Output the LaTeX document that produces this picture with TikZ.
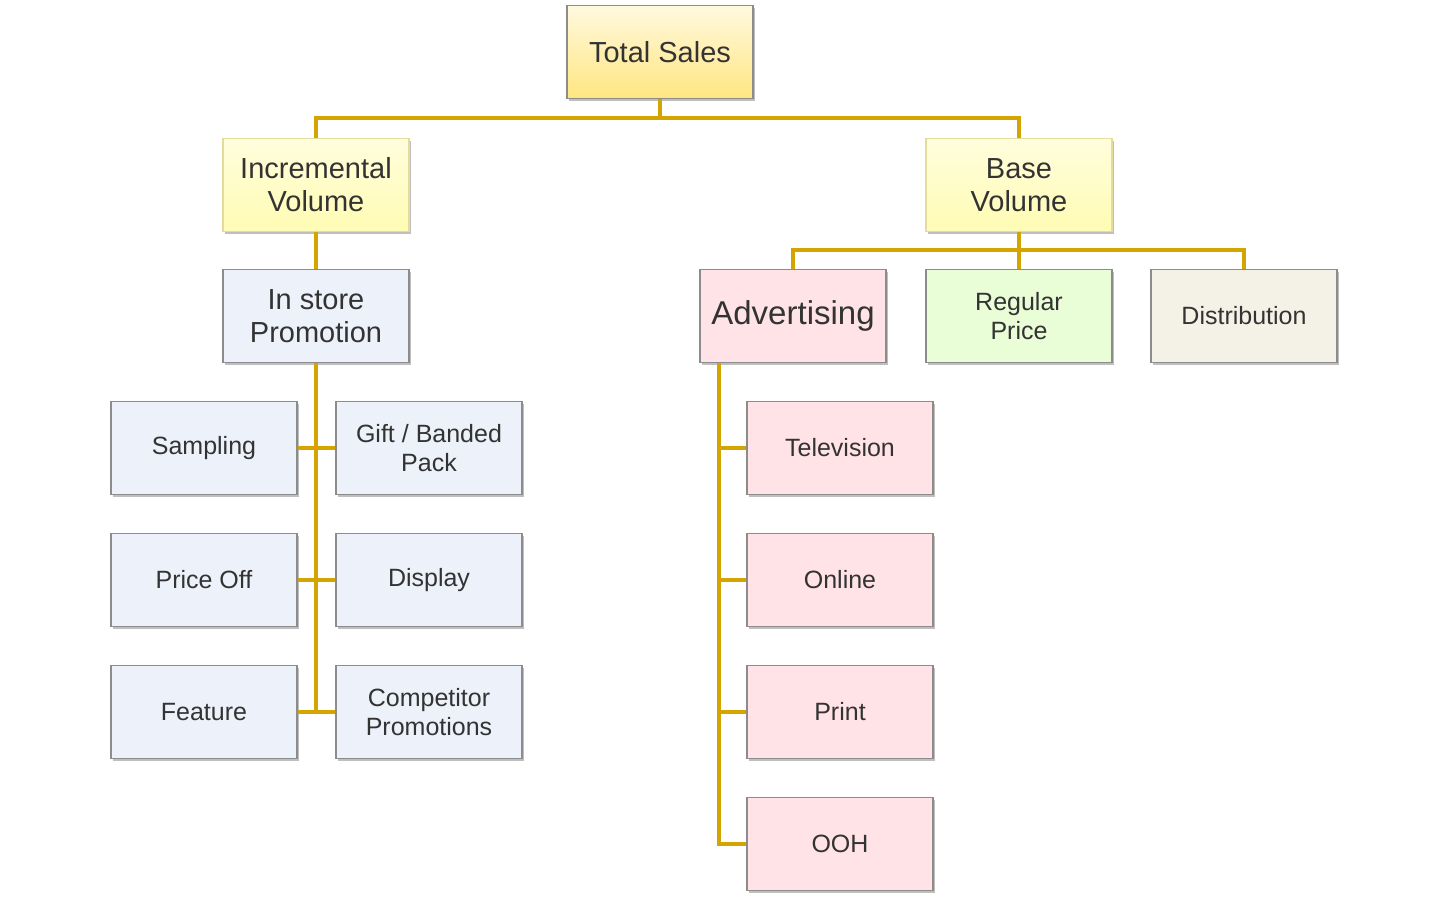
\documentclass[tikz,border=0pt]{standalone}
\usepackage{fontspec}
\setmainfont{Liberation Sans}
\usetikzlibrary{shadows}
\definecolor{conn}{HTML}{D4A500}
\definecolor{txt}{HTML}{333333}
\definecolor{bord}{HTML}{8C8C8C}
\definecolor{ylbord}{HTML}{E4DC9C}
\definecolor{blfill}{HTML}{EDF1FA}
\definecolor{pkfill}{HTML}{FFE3E6}
\definecolor{grfill}{HTML}{E9FDD6}
\definecolor{bgfill}{HTML}{F4F2E7}
\tikzset{
  box/.style={rectangle, minimum width=186pt, minimum height=93pt, inner sep=0pt,
    align=center, text=txt, draw=bord, line width=1.1pt,
    drop shadow={shadow xshift=1.5pt, shadow yshift=-2pt, opacity=0.25, fill=black}},
  big/.style={font=\fontsize{29}{33}\selectfont},
  small/.style={font=\fontsize{25}{29}\selectfont},
  topbox/.style={box, big, top color=yellow!8!white!95!orange, bottom color={rgb,255:red,255;green,230;blue,128}},
  ybox/.style={box, big, draw=ylbord, top color={rgb,255:red,255;green,253;blue,220}, bottom color={rgb,255:red,255;green,252;blue,180}},
  bbox/.style={box, fill=blfill},
  pbox/.style={box, small, fill=pkfill},
  link/.style={draw=conn, line width=4pt}
}
\begin{document}
\begin{tikzpicture}[x=1pt,y=-1pt]
\useasboundingbox (0,0) rectangle (1432,903);
% nodes
\node[topbox] (ts) at (660,52) {Total Sales};
\node[ybox] (iv) at (316,185) {Incremental\\Volume};
\node[ybox] (bv) at (1019,185) {Base\\Volume};
\node[bbox, big] (isp) at (316,316) {In store\\Promotion};
\node[box, fill=pkfill, font=\fontsize{33}{38}\selectfont] (adv) at (793,316) {Advertising};
\node[box, small, fill=grfill] (rp) at (1019,316) {Regular\\Price};
\node[box, small, fill=bgfill] (dist) at (1244,316) {Distribution};
\node[bbox, small] (samp) at (204,448) {Sampling};
\node[bbox, small] (gift) at (429,448) {Gift / Banded\\Pack};
\node[bbox, small] (poff) at (204,580) {Price Off};
\node[bbox, small] (disp) at (429,580) {Display};
\node[bbox, small] (feat) at (204,712) {Feature};
\node[bbox, small] (comp) at (429,712) {Competitor\\Promotions};
\node[pbox] (tv) at (840,448) {Television};
\node[pbox] (onl) at (840,580) {Online};
\node[pbox] (prt) at (840,712) {Print};
\node[pbox] (ooh) at (840,844) {OOH};
% connectors
\coordinate (bus1) at (660,118);
\coordinate (bus2) at (1019,250);
\coordinate (aj) at (719,363);
\draw[link] (ts.south) -- (bus1) -| (iv.north);
\draw[link] (bus1) -| (bv.north);
\draw[link] (iv.south) -- (isp.north);
\draw[link] (bv.south) -- (bus2);
\draw[link] (adv.north) |- (bus2) -| (dist.north);
\draw[link] (bus2) -- (rp.north);
\draw[link] (isp.south) -- (isp.south |- feat.east);
\draw[link] (samp.east) -- (gift.west);
\draw[link] (poff.east) -- (disp.west);
\draw[link] (feat.east) -- (comp.west);
\draw[link] (aj) |- (ooh.west);
\draw[link] (aj |- tv.west) -- (tv.west);
\draw[link] (aj |- onl.west) -- (onl.west);
\draw[link] (aj |- prt.west) -- (prt.west);
\end{tikzpicture}
\end{document}
